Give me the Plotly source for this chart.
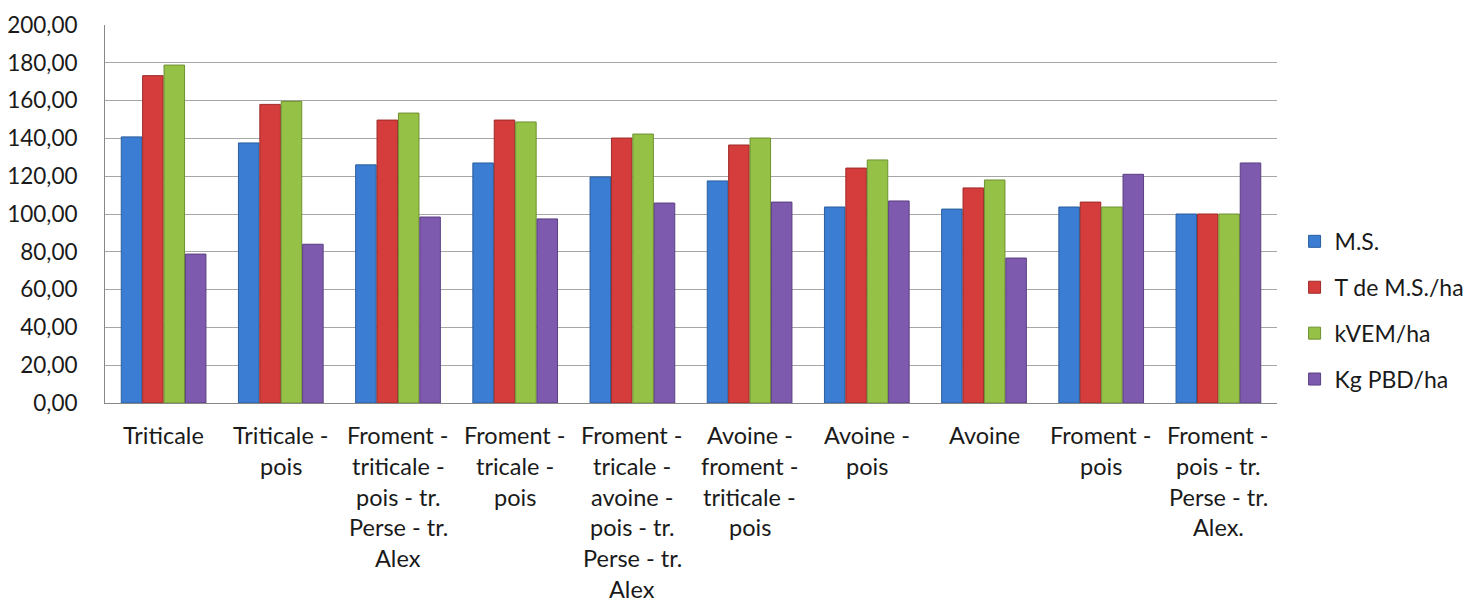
import plotly.graph_objects as go

categories = [
    "Triticale",
    "Triticale -\npois",
    "Froment -\ntriticale -\npois - tr.\nPerse - tr.\nAlex",
    "Froment -\ntricale -\npois",
    "Froment -\ntricale -\navoine -\npois - tr.\nPerse - tr.\nAlex",
    "Avoine -\nfroment -\ntriticale -\npois",
    "Avoine -\npois",
    "Avoine",
    "Froment -\npois",
    "Froment -\npois - tr.\nPerse - tr.\nAlex.",
]
series_names = ["M.S.", "T de M.S./ha", "kVEM/ha", "Kg PBD/ha"]
ms = [140.8, 137.6, 126.0, 127.0, 119.6, 117.5, 103.7, 102.6, 103.7, 100.0]
t_ms_ha = [173.2, 158.0, 149.7, 149.7, 140.2, 136.5, 124.3, 113.8, 106.3, 100.0]
kvem_ha = [178.8, 159.6, 153.4, 148.7, 142.3, 140.2, 128.6, 118.0, 103.7, 100.0]
kg_pbd_ha = [78.8, 84.0, 98.4, 97.4, 105.8, 106.3, 106.9, 76.7, 121.0, 127.0]
y_ticks = [0, 20, 40, 60, 80, 100, 120, 140, 160, 180, 200]

colors = ["#3A7DD2", "#D43D3B", "#95C246", "#7E5AAE"]
lines = ["#2A5D9E", "#9E2A28", "#6E9030", "#5A3F80"]
values = [ms, t_ms_ha, kvem_ha, kg_pbd_ha]

idx = list(range(len(categories)))
fig = go.Figure()
for name, vals, c, lc in zip(series_names, values, colors, lines):
    fig.add_trace(go.Bar(
        x=idx, y=vals, name=name, legendgroup=name,
        marker=dict(color=c, line=dict(color=lc, width=1)),
    ))

font = "Lato, 'Open Sans', sans-serif"
annotations = []
for i, lab in enumerate(categories):
    for k, line in enumerate(lab.split("\n")):
        annotations.append(dict(
            x=i, y=0, xref="x", yref="y", text=line, showarrow=False,
            xanchor="center", yanchor="middle", yshift=-(32 + 30.8 * k),
            font=dict(family=font, size=23.5, color="#1a1a1a"),
        ))

fig.update_layout(
    width=1475, height=602,
    margin=dict(l=97, r=206, t=17, b=207, autoexpand=False),
    paper_bgcolor="white", plot_bgcolor="white",
    barmode="group", bargap=0.27, bargroupgap=0.04,
    separators=", ",
    showlegend=True,
    legend=dict(
        x=1.015, y=0.245, xanchor="left", yanchor="middle",
        font=dict(family=font, size=23, color="#1a1a1a"),
        tracegroupgap=13, itemwidth=30,
    ),
    annotations=annotations,
    xaxis=dict(
        range=[-0.5, len(categories) - 0.5], showticklabels=False,
        showgrid=False, zeroline=False, showline=True, linecolor="#888888",
        linewidth=1, automargin=False,
    ),
    yaxis=dict(
        range=[0, 200], tickvals=y_ticks, tickformat=".2f",
        showgrid=True, gridcolor="#A6A6A6", gridwidth=1,
        zeroline=False, showline=True, linecolor="#888888", linewidth=1,
        ticks="", ticklabelstandoff=22, automargin=False,
        tickfont=dict(family=font, size=22.5, color="#1a1a1a"),
    ),
)
fig.write_html("out.html")
